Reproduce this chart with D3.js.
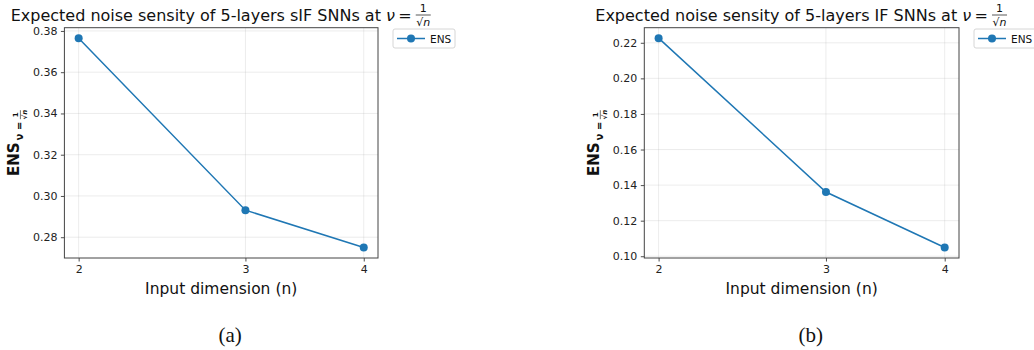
<!DOCTYPE html>
<html><head><meta charset="utf-8">
<script src="https://cdn.jsdelivr.net/npm/d3@7"></script>
<style>body{margin:0;background:#fff}svg{display:block}</style>
</head><body>
<svg id="c" width="1034" height="350"></svg>
<script>
const dims = [2, 3, 4];
const ensSIF = [0.3765, 0.2931, 0.2750];
const ensIF = [0.2226, 0.1361, 0.1049];
const yTicksA = [0.28, 0.30, 0.32, 0.34, 0.36, 0.38];
const yTicksB = [0.10, 0.12, 0.14, 0.16, 0.18, 0.20, 0.22];
const xTicks = [2, 3, 4];
const panels = [
  {title: "Expected noise sensity of 5-layers sIF SNNs at", values: ensSIF, yTicks: yTicksA, caption: "(a)", left: 64.4, right: 378},
  {title: "Expected noise sensity of 5-layers IF SNNs at", values: ensIF, yTicks: yTicksB, caption: "(b)", left: 644.3, right: 959}
];
const color = "#1f77b4";
const font = "DejaVu Sans, sans-serif";
const svg = d3.select("#c");
const plotTop = 27.7, plotBottom = 258;

panels.forEach(p => {
  const g = svg.append("g");
  const lx = Math.log(d3.min(dims)), hx = Math.log(d3.max(dims));
  const mx = (hx - lx) * 0.05;
  const x = d3.scaleLog().domain([Math.exp(lx - mx), Math.exp(hx + mx)]).range([p.left, p.right]);
  const lo = d3.min(p.values), hi = d3.max(p.values), my = (hi - lo) * 0.05;
  const y = d3.scaleLinear().domain([lo - my, hi + my]).range([plotBottom, plotTop]);

  // grid
  g.selectAll(".gy").data(p.yTicks).join("line")
    .attr("x1", p.left).attr("x2", p.right).attr("y1", d => y(d)).attr("y2", d => y(d))
    .attr("stroke", "#b0b0b0").attr("stroke-opacity", 0.3).attr("stroke-width", 0.8);
  g.selectAll(".gx").data(xTicks).join("line")
    .attr("y1", plotTop).attr("y2", plotBottom).attr("x1", d => x(d)).attr("x2", d => x(d))
    .attr("stroke", "#b0b0b0").attr("stroke-opacity", 0.3).attr("stroke-width", 0.8);

  // axes
  const ax = g.append("g").attr("transform", `translate(0,${plotBottom})`)
    .call(d3.axisBottom(x).tickValues(xTicks).tickFormat(d3.format("d")).tickSize(3.5).tickPadding(3.5));
  const ay = g.append("g").attr("transform", `translate(${p.left},0)`)
    .call(d3.axisLeft(y).tickValues(p.yTicks).tickFormat(d3.format(".2f")).tickSize(3.5).tickPadding(3.5));
  [ax, ay].forEach(a => {
    a.select(".domain").remove();
    a.selectAll("line").attr("stroke", "#222").attr("stroke-width", 0.8);
    a.selectAll("text").attr("font-family", font).attr("font-size", 11).attr("fill", "#222");
  });

  // frame
  g.append("rect").attr("x", p.left).attr("y", plotTop).attr("width", p.right - p.left).attr("height", plotBottom - plotTop)
    .attr("fill", "none").attr("stroke", "#444").attr("stroke-width", 1);

  // line
  const pts = dims.map((d, i) => [d, p.values[i]]);
  g.append("path").datum(pts)
    .attr("d", d3.line().x(d => x(d[0])).y(d => y(d[1])))
    .attr("fill", "none").attr("stroke", color).attr("stroke-width", 1.5);
  g.selectAll(".pt").data(pts).join("circle")
    .attr("cx", d => x(d[0])).attr("cy", d => y(d[1])).attr("r", 4).attr("fill", color);

  // title
  const cx = (p.left + p.right) / 2;
  const tt = g.append("text").attr("y", 20.5).attr("font-family", font).attr("font-size", 16).attr("fill", "#111")
    .text(p.title + "\u00a0");
  const tw = tt.node().getComputedTextLength();
  const nuTxt = g.append("text").attr("y", 20.5).attr("font-family", font).attr("font-size", 16)
    .attr("fill", "#111").html("<tspan font-style='italic'>ν</tspan>\u2009=\u2009");
  const nw = nuTxt.node().getComputedTextLength();
  const fw = 17;
  const total = tw + nw + fw;
  const x0 = cx - total / 2;
  tt.attr("x", x0);
  nuTxt.attr("x", x0 + tw);
  const fx = x0 + tw + nw + fw / 2;
  g.append("text").attr("x", fx).attr("y", 12).attr("text-anchor", "middle").attr("font-family", font)
    .attr("font-size", 11).attr("fill", "#111").text("1");
  g.append("line").attr("x1", fx - fw / 2 + 1).attr("x2", fx + fw / 2 - 1).attr("y1", 15).attr("y2", 15)
    .attr("stroke", "#111").attr("stroke-width", 0.7);
  g.append("text").attr("x", fx).attr("y", 25.5).attr("text-anchor", "middle").attr("font-family", font)
    .attr("font-size", 11).attr("fill", "#111").html("√<tspan font-style='italic'>n</tspan>");

  // x label
  g.append("text").attr("x", cx).attr("y", 293.5).attr("text-anchor", "middle").attr("font-family", font)
    .attr("font-size", 15.5).attr("fill", "#111").text("Input dimension (n)");

  // y label
  const yl = g.append("g").attr("transform", `translate(${p.left - 45},${(plotTop + plotBottom) / 2}) rotate(-90)`);
  const ens = yl.append("text").attr("font-family", font).attr("font-size", 15).attr("font-weight", "bold")
    .attr("fill", "#111").text("ENS");
  const ew = ens.node().getComputedTextLength();
  const sub = yl.append("text").attr("y", 4).attr("font-family", font).attr("font-size", 10).attr("font-weight", "bold")
    .attr("fill", "#111").text("ν =");
  const sw = sub.node().getComputedTextLength();
  const totalY = ew + 2 + sw + 12;
  const y0 = -totalY / 2;
  ens.attr("x", y0);
  sub.attr("x", y0 + ew + 2);
  const sfx = y0 + ew + 2 + sw + 7;
  yl.append("text").attr("x", sfx).attr("y", -1).attr("text-anchor", "middle").attr("font-family", font)
    .attr("font-size", 7).attr("font-weight", "bold").attr("fill", "#111").text("1");
  yl.append("line").attr("x1", sfx - 4.5).attr("x2", sfx + 4.5).attr("y1", 1).attr("y2", 1)
    .attr("stroke", "#111").attr("stroke-width", 0.6);
  yl.append("text").attr("x", sfx).attr("y", 8).attr("text-anchor", "middle").attr("font-family", font)
    .attr("font-size", 7).attr("font-weight", "bold").attr("fill", "#111").html("√<tspan font-style='italic'>n</tspan>");

  // legend
  const lg = g.append("g").attr("transform", `translate(${p.right + 15},29)`);
  lg.append("rect").attr("x", 0).attr("y", 0).attr("width", 62).attr("height", 19).attr("rx", 2)
    .attr("fill", "#fff").attr("stroke", "#ccc").attr("stroke-width", 0.8);
  lg.append("line").attr("x1", 4).attr("x2", 32).attr("y1", 9.5).attr("y2", 9.5)
    .attr("stroke", color).attr("stroke-width", 1.5);
  lg.append("circle").attr("cx", 18).attr("cy", 9.5).attr("r", 4).attr("fill", color);
  lg.append("text").attr("x", 37).attr("y", 13.5).attr("font-family", font).attr("font-size", 10.5)
    .attr("fill", "#111").text("ENS");

  // caption
  g.append("text").attr("x", cx + 9).attr("y", 342).attr("text-anchor", "middle")
    .attr("font-family", "Liberation Serif, Times New Roman, serif").attr("font-size", 21).attr("fill", "#111")
    .text(p.caption);
});
</script>
</body></html>
